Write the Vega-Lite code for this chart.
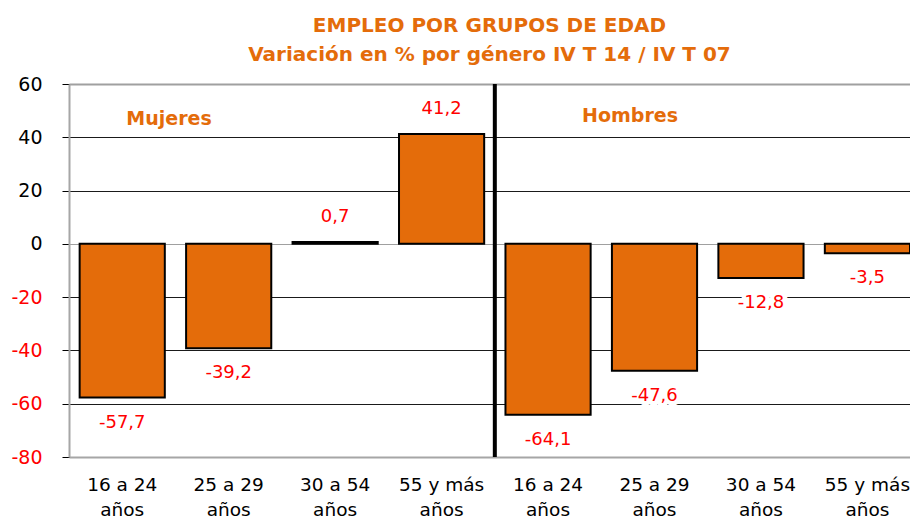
{
  "$schema": "https://vega.github.io/schema/vega-lite/v6.json",
  "autosize": "none",
  "width": 841,
  "height": 373,
  "padding": {"left": 69, "top": 84, "right": 0, "bottom": 63},
  "background": "white",
  "config": {
    "font": "DejaVu Sans",
    "view": {"stroke": null},
    "locale": {"number": {"decimal": ",", "thousands": ".", "grouping": [3], "currency": ["", " €"], "minus": "-"}}
  },
  "title": {
    "text": ["EMPLEO POR GRUPOS DE EDAD", "Variación en % por género IV T 14 / IV T 07"],
    "font": "DejaVu Sans",
    "fontSize": 20,
    "fontWeight": "bold",
    "color": "#E46C0A",
    "anchor": "middle",
    "lineHeight": 29,
    "offset": 10
  },
  "datasets": {
    "empleo": [
      {"key": "16 a 24|años|M", "genero": "Mujeres", "v": -57.7},
      {"key": "25 a 29|años|M", "genero": "Mujeres", "v": -39.2},
      {"key": "30 a 54|años|M", "genero": "Mujeres", "v": 0.7},
      {"key": "55 y más|años|M", "genero": "Mujeres", "v": 41.2},
      {"key": "16 a 24|años|H", "genero": "Hombres", "v": -64.1},
      {"key": "25 a 29|años|H", "genero": "Hombres", "v": -47.6},
      {"key": "30 a 54|años|H", "genero": "Hombres", "v": -12.8},
      {"key": "55 y más|años|H", "genero": "Hombres", "v": -3.5}
    ],
    "grupos": [
      {"grupo": "Mujeres", "pos": 0.94, "nivel": 46.9},
      {"grupo": "Hombres", "pos": 5.27, "nivel": 48.0}
    ],
    "separador": [{"pos": 4}]
  },
  "layer": [
    {
      "data": {"name": "empleo"},
      "encoding": {
        "x": {
          "field": "key",
          "type": "nominal",
          "sort": null,
          "scale": {"paddingInner": 0.2, "paddingOuter": 0.05, "align": 1},
          "axis": {
            "title": null,
            "labelExpr": "slice(split(datum.label, '|'), 0, 2)",
            "labelAngle": 0,
            "labelFontSize": 18.5,
            "labelColor": "black",
            "labelPadding": 18,
            "labelLineHeight": 25,
            "ticks": false,
            "domainColor": "#A6A6A6",
            "domainWidth": 2,
            "grid": false
          }
        },
        "y": {
          "field": "v",
          "type": "quantitative",
          "scale": {"domain": [-80, 60], "nice": false},
          "axis": {
            "title": null,
            "values": [-80, -60, -40, -20, 0, 20, 40, 60],
            "format": "d",
            "labelFontSize": 19,
            "labelPadding": 20,
            "labelColor": {"condition": {"test": "datum.value < 0", "value": "#FF0000"}, "value": "black"},
            "tickSize": 7,
            "tickColor": "#000000",
            "tickWidth": 1,
            "domainColor": "#A6A6A6",
            "domainWidth": 2,
            "grid": true,
            "gridColor": {"condition": {"test": "datum.value == 0 || datum.value == 60", "value": "#A0A0A0"}, "value": "#1A1A1A"},
            "gridWidth": {"condition": {"test": "datum.value == 60", "value": 2}, "value": 1},
            "gridOpacity": 1
          }
        }
      },
      "layer": [
        {
          "mark": {"type": "bar", "fill": "#E46C0A", "stroke": "black", "strokeWidth": 2},
          "encoding": {"y2": {"datum": 0}}
        },
        {
          "transform": [{"filter": "datum.v < 0"}],
          "mark": {"type": "text", "dy": 25, "fontSize": 18, "stroke": "white", "strokeWidth": 9, "strokeJoin": "round", "fill": "white"},
          "encoding": {"text": {"field": "v", "type": "quantitative", "format": ".1f"}}
        },
        {
          "transform": [{"filter": "datum.v < 0"}],
          "mark": {"type": "text", "dy": 25, "fontSize": 18, "fill": "#FF0000"},
          "encoding": {"text": {"field": "v", "type": "quantitative", "format": ".1f"}}
        },
        {
          "transform": [{"filter": "datum.v >= 0"}],
          "mark": {"type": "text", "dy": -25, "fontSize": 18, "stroke": "white", "strokeWidth": 9, "strokeJoin": "round", "fill": "white"},
          "encoding": {"text": {"field": "v", "type": "quantitative", "format": ".1f"}}
        },
        {
          "transform": [{"filter": "datum.v >= 0"}],
          "mark": {"type": "text", "dy": -25, "fontSize": 18, "fill": "#FF0000"},
          "encoding": {"text": {"field": "v", "type": "quantitative", "format": ".1f"}}
        }
      ]
    },
    {
      "data": {"name": "separador"},
      "mark": {"type": "rule", "color": "black", "strokeWidth": 4},
      "encoding": {
        "x": {"field": "pos", "type": "quantitative", "scale": {"domain": [0, 7.9], "nice": false, "zero": false}, "axis": null}
      }
    },
    {
      "data": {"name": "grupos"},
      "mark": {"type": "text", "fontSize": 19, "fontWeight": "bold", "fill": "#E46C0A", "baseline": "middle"},
      "encoding": {
        "x": {"field": "pos", "type": "quantitative", "scale": {"domain": [0, 7.9], "nice": false, "zero": false}, "axis": null},
        "y": {"field": "nivel", "type": "quantitative"},
        "text": {"field": "grupo"}
      }
    }
  ],
  "resolve": {"scale": {"x": "independent"}, "axis": {"x": "independent"}}
}
